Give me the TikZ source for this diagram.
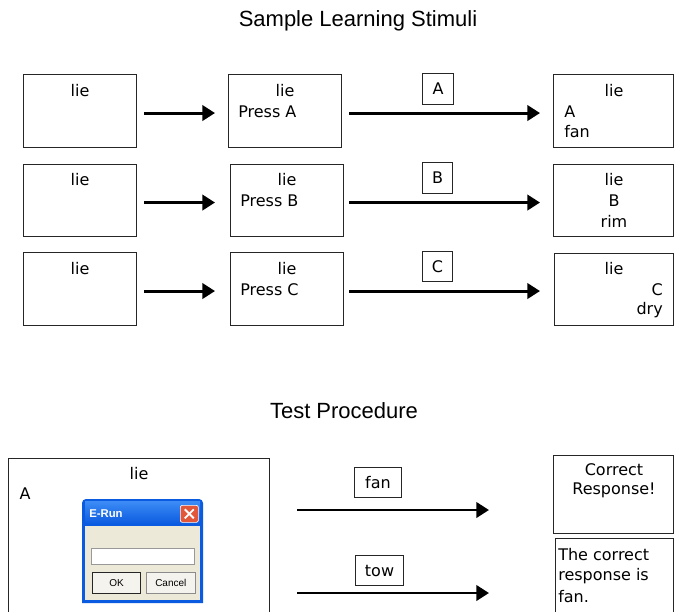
\documentclass[tikz,border=0pt]{standalone}
\usepackage{fontspec}
\setmainfont{DejaVu Sans}
\newfontfamily\titlefont{Liberation Sans}
\usetikzlibrary{arrows.meta}
\definecolor{xpblue}{HTML}{0B5BE0}
\definecolor{xpbluetop}{HTML}{3D8CF6}
\definecolor{xpbody}{HTML}{ECE9D8}
\definecolor{xpred}{HTML}{E2563A}
\definecolor{xpbtn}{HTML}{F4F3EE}
\begin{document}
\begin{tikzpicture}[x=0.75pt,y=-0.75pt,
  bw/.style={minimum width=#1*0.75pt},
  bh/.style={minimum height=#1*0.75pt},
  box/.style={draw=black!85, line width=0.8pt, anchor=north west, inner sep=0pt, fill=white},
  txt/.style={font=\fontsize{12}{14}\selectfont, inner sep=0pt},
  ttl/.style={font=\titlefont\fontsize{16.5}{19}\selectfont, inner sep=0pt},
  arr/.style={line width=2.2pt, -{Triangle[length=9.5pt,width=11.5pt]}},
  dlgbtn/.style={draw=black!45, fill=xpbtn, line width=0.5pt, inner sep=0pt, font=\titlefont\fontsize{7.5}{8}\selectfont}
]
\useasboundingbox (0,0) rectangle (678,611);
\fill[white] (0,0) rectangle (678,611);

% titles
\node[ttl] (title1) at (358,21) {Sample Learning Stimuli};
\node[ttl] (title2) at (344,411) {Test Procedure};

% row boxes
\node[box,bw=113,bh=73] (L1) at (23,74) {};
\node[box,bw=113,bh=72] (L2) at (23,164) {};
\node[box,bw=113,bh=73] (L3) at (23,252) {};
\node[box,bw=113,bh=73] (M1) at (228,74) {};
\node[box,bw=113,bh=72] (M2) at (230,164) {};
\node[box,bw=113,bh=73] (M3) at (230,252) {};
\node[box,bw=120,bh=73] (R1) at (553,74) {};
\node[box,bw=120,bh=72] (R2) at (553,164) {};
\node[box,bw=119,bh=72] (R3) at (554,253) {};

% labels on long arrows
\node[box,bw=31,bh=31] (kA) at (422,73) {};
\node[txt] (kAt) at (kA.center) {A};
\node[box,bw=30,bh=31] (kB) at (422,162) {};
\node[txt] (kBt) at (kB.center) {B};
\node[box,bw=30,bh=30] (kC) at (422,251) {};
\node[txt] (kCt) at (kC.center) {C};

% texts in boxes
\node[txt] (l1) at (80,91) {lie};
\node[txt] (l2) at (80,180) {lie};
\node[txt] (l3) at (80,269) {lie};
\node[txt] (m1) at (285,91) {lie};
\node[txt,anchor=west] (m1p) at (238,112) {Press A};
\node[txt] (m2) at (287,180) {lie};
\node[txt,anchor=west] (m2p) at (240,201) {Press B};
\node[txt] (m3) at (287,269) {lie};
\node[txt,anchor=west] (m3p) at (240,290) {Press C};
\node[txt] (r1) at (614,91) {lie};
\node[txt,anchor=west] (r1a) at (564,112) {A};
\node[txt,anchor=west] (r1b) at (564,132) {fan};
\node[txt] (r2) at (614,180) {lie};
\node[txt] (r2a) at (614,201) {B};
\node[txt] (r2b) at (614,221) {rim};
\node[txt] (r3) at (614,269) {lie};
\node[txt,anchor=east] (r3a) at (663,290) {C};
\node[txt,anchor=east] (r3b) at (663,310) {dry};

% arrows
\draw[arr,shorten <=7*0.75pt,shorten >=13*0.75pt] ([yshift=-2*0.75pt]L1.east) -- ([yshift=-2*0.75pt]M1.west);
\draw[arr,shorten <=7*0.75pt,shorten >=15*0.75pt] ([yshift=-2*0.75pt]L2.east) -- ([yshift=-2*0.75pt]M2.west);
\draw[arr,shorten <=7*0.75pt,shorten >=15*0.75pt] ([yshift=-2*0.75pt]L3.east) -- ([yshift=-2*0.75pt]M3.west);
\draw[arr,shorten <=7*0.75pt,shorten >=13*0.75pt] ([yshift=-2*0.75pt]M1.east) -- ([yshift=-2*0.75pt]R1.west);
\draw[arr,shorten <=5*0.75pt,shorten >=13*0.75pt] ([yshift=-2*0.75pt]M2.east) -- ([yshift=-2*0.75pt]R2.west);
\draw[arr,shorten <=5*0.75pt,shorten >=14*0.75pt] ([yshift=-2*0.75pt]M3.east) -- ([yshift=-2*0.75pt]M3.east -| R3.west);

% test procedure
\begin{scope}
\clip (0,0) rectangle (678,611);
\node[box,bw=261,bh=170] (big) at (8,458) {};
\node[box,bw=120,bh=78] (ok) at (553,455) {};
\node[box,bw=118,bh=90] (bad) at (555,538) {};
\end{scope}
\node[txt] (bl) at (139,474) {lie};
\node[txt] (ba) at (25,494) {A};
\node[txt,align=center] (okt) at (614,481) {Correct\\Response!};
\node[txt,anchor=west] (bad1) at (558,555) {The correct};
\node[txt,anchor=west] (bad2) at (558,576) {response is};
\node[txt,anchor=west] (bad3) at (558,597) {fan.};

\node[box,bw=47,bh=30] (kfan) at (354,467) {};
\node[txt] (kfant) at (kfan.center) {fan};
\node[box,bw=48,bh=30] (ktow) at (355,555) {};
\node[txt] (ktowt) at (ktow.center) {tow};

\coordinate (s1) at (297,510);
\coordinate (e1) at (489,510);
\coordinate (s2) at (297,593);
\coordinate (e2) at (489,593);
\draw[arr] (s1) -- (e1);
\draw[arr] (s2) -- (e2);

% dialog
\fill[xpblue] (82,603) [rounded corners=4*0.75pt] -- (82,499) -- (203,499) [sharp corners] -- (203,603) -- cycle;
\shade[top color=xpbluetop, bottom color=xpblue] (85,501) rectangle (200,524);
\fill[xpbody] (85,526) rectangle (200,600);
\node[font=\titlefont\bfseries\fontsize{8.5}{9}\selectfont, text=white, anchor=west, inner sep=0pt] (dlgt) at (89,514) {E-Run};
\node[draw=white, line width=0.5pt, fill=xpred, rounded corners=1.5pt, minimum width=18*0.75pt, minimum height=17*0.75pt, inner sep=0pt, anchor=north west] (xbtn) at (180,505) {};
\draw[white, line width=1.4pt] ([shift={(-4.5*0.75pt,-4.5*0.75pt)}]xbtn.center) -- ([shift={(4.5*0.75pt,4.5*0.75pt)}]xbtn.center);
\draw[white, line width=1.4pt] ([shift={(-4.5*0.75pt,4.5*0.75pt)}]xbtn.center) -- ([shift={(4.5*0.75pt,-4.5*0.75pt)}]xbtn.center);
\node[draw=black!40, fill=white, line width=0.6pt, anchor=north west, inner sep=0pt, minimum width=103*0.75pt, minimum height=16*0.75pt] (field) at (91,548) {};
\node[dlgbtn, draw=black!85, line width=0.8pt, anchor=north west, minimum width=48*0.75pt, minimum height=21*0.75pt] (okb) at (92,572) {OK};
\node[dlgbtn, anchor=north west, minimum width=49*0.75pt, minimum height=21*0.75pt] (cancelb) at (146,572) {Cancel};
\end{tikzpicture}
\end{document}
